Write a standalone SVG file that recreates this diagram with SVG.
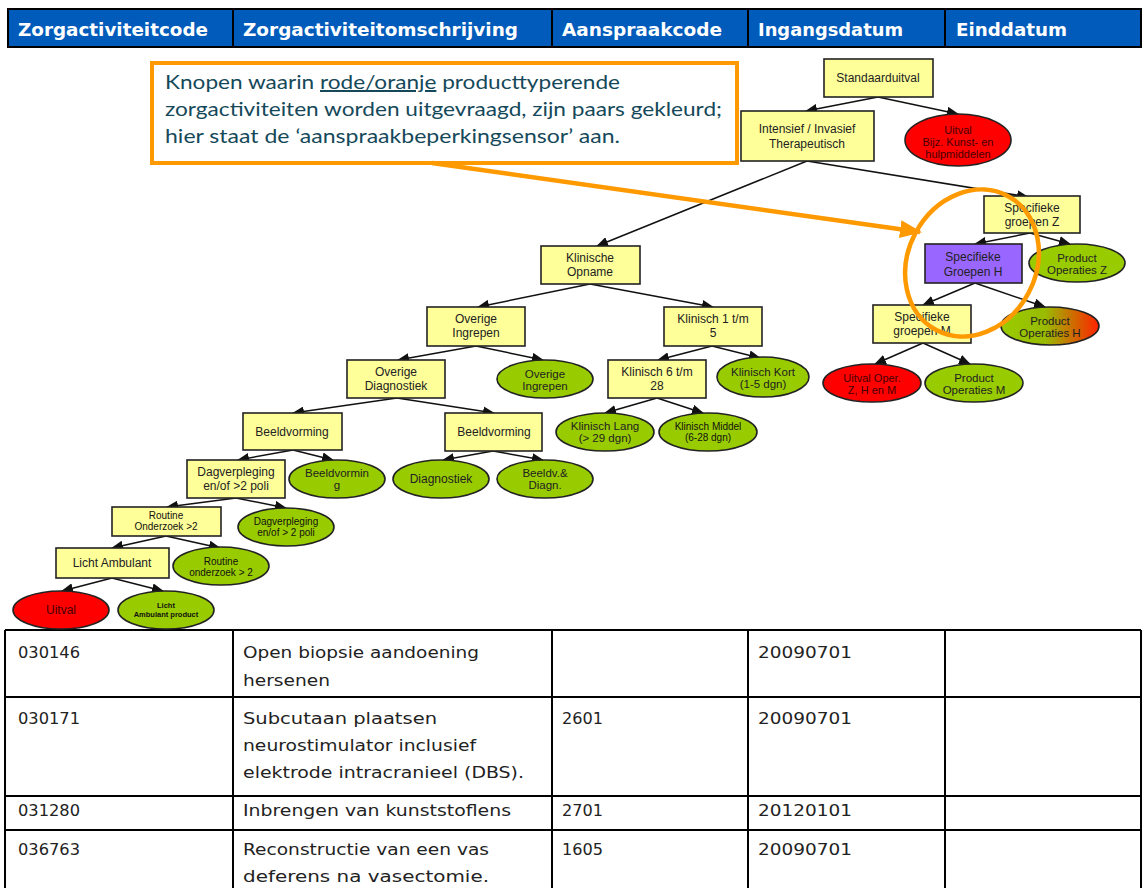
<svg xmlns="http://www.w3.org/2000/svg" width="1143" height="888" viewBox="0 0 1143 888">
<style>
.hdr{font-family:"DejaVu Sans",Verdana,sans-serif;font-weight:bold;font-size:17px;fill:#fff}
.td{font-family:"DejaVu Sans",Verdana,sans-serif;font-size:16.5px;fill:#222}
.grid{stroke:#000;stroke-width:2;fill:none}
.box{fill:#FFFF99;stroke:#222;stroke-width:1.6}
.pur{fill:#9966FF;stroke:#222;stroke-width:1.6}
.grn{fill:#99CC00;stroke:#222;stroke-width:1.6}
.red{fill:#FF0000;stroke:#222;stroke-width:1.6}
.t{font-family:"Liberation Sans",Arial,sans-serif;font-size:12px;fill:#222;text-anchor:middle}
.t11{font-family:"Liberation Sans",Arial,sans-serif;font-size:11.5px;fill:#222;text-anchor:middle}
.ts{font-family:"Liberation Sans",Arial,sans-serif;font-size:10px;fill:#111;text-anchor:middle}
.tx{font-family:"Liberation Sans",Arial,sans-serif;font-size:7.5px;font-weight:bold;fill:#111;text-anchor:middle}
.tr{font-family:"Liberation Sans",Arial,sans-serif;font-size:11px;fill:#400;text-anchor:middle}
.call{font-family:Lato,"Open Sans",sans-serif;font-size:20px;fill:#15495A}
.edge{stroke:#111;stroke-width:1.5;fill:none;marker-end:url(#ah)}
</style>
<defs>
<marker id="ah" markerWidth="12" markerHeight="10" refX="11" refY="5" orient="auto" markerUnits="userSpaceOnUse">
<path d="M0,0 L12,5 L0,10 Z" fill="#111"/>
</marker>
<marker id="oah" markerWidth="22" markerHeight="18" refX="20" refY="9" orient="auto" markerUnits="userSpaceOnUse">
<path d="M0,0 L22,9 L0,18 Z" fill="#FF9900"/>
</marker>
<linearGradient id="gh" x1="0" y1="0" x2="1" y2="0">
<stop offset="0" stop-color="#99CC00"/>
<stop offset="0.45" stop-color="#99BB00"/>
<stop offset="1" stop-color="#FF2200"/>
</linearGradient>
</defs>
<rect width="1143" height="888" fill="#fff"/>

<g id="header">
<rect x="8" y="9" width="1133" height="38" fill="#005BBB"/>
<path class="grid" d="M8,9 H1141 V47 H8 Z M233,9 V47 M552,9 V47 M748,9 V47 M945,9 V47"/>
<text class="hdr" x="18" y="36" textLength="190" lengthAdjust="spacingAndGlyphs">Zorgactiviteitcode</text>
<text class="hdr" x="243" y="36" textLength="275" lengthAdjust="spacingAndGlyphs">Zorgactiviteitomschrijving</text>
<text class="hdr" x="562" y="36" textLength="160" lengthAdjust="spacingAndGlyphs">Aanspraakcode</text>
<text class="hdr" x="758" y="36" textLength="145" lengthAdjust="spacingAndGlyphs">Ingangsdatum</text>
<text class="hdr" x="956" y="36" textLength="111" lengthAdjust="spacingAndGlyphs">Einddatum</text>
</g>

<g id="table">
<path class="grid" d="M5,630 H1141 M5,697 H1141 M5,796 H1141 M5,830 H1141 M5,630 V888 M233,630 V888 M552,630 V888 M748,630 V888 M945,630 V888 M1141,630 V888"/>
<text class="td" x="18" y="658" textLength="62" lengthAdjust="spacingAndGlyphs">030146</text>
<text class="td" x="243" y="658" textLength="236" lengthAdjust="spacingAndGlyphs">Open biopsie aandoening</text>
<text class="td" x="243" y="686" textLength="87" lengthAdjust="spacingAndGlyphs">hersenen</text>
<text class="td" x="758" y="658" textLength="94" lengthAdjust="spacingAndGlyphs">20090701</text>
<text class="td" x="18" y="724" textLength="62" lengthAdjust="spacingAndGlyphs">030171</text>
<text class="td" x="243" y="724" textLength="194" lengthAdjust="spacingAndGlyphs">Subcutaan plaatsen</text>
<text class="td" x="243" y="751" textLength="233" lengthAdjust="spacingAndGlyphs">neurostimulator inclusief</text>
<text class="td" x="243" y="778" textLength="281" lengthAdjust="spacingAndGlyphs">elektrode intracranieel (DBS).</text>
<text class="td" x="562" y="724" textLength="41" lengthAdjust="spacingAndGlyphs">2601</text>
<text class="td" x="758" y="724" textLength="94" lengthAdjust="spacingAndGlyphs">20090701</text>
<text class="td" x="18" y="816" textLength="62" lengthAdjust="spacingAndGlyphs">031280</text>
<text class="td" x="243" y="816" textLength="268" lengthAdjust="spacingAndGlyphs">Inbrengen van kunststoflens</text>
<text class="td" x="562" y="816" textLength="41" lengthAdjust="spacingAndGlyphs">2701</text>
<text class="td" x="758" y="816" textLength="94" lengthAdjust="spacingAndGlyphs">20120101</text>
<text class="td" x="18" y="855" textLength="62" lengthAdjust="spacingAndGlyphs">036763</text>
<text class="td" x="243" y="855" textLength="246" lengthAdjust="spacingAndGlyphs">Reconstructie van een vas</text>
<text class="td" x="243" y="882" textLength="246" lengthAdjust="spacingAndGlyphs">deferens na vasectomie.</text>
<text class="td" x="562" y="855" textLength="41" lengthAdjust="spacingAndGlyphs">1605</text>
<text class="td" x="758" y="855" textLength="94" lengthAdjust="spacingAndGlyphs">20090701</text>
</g>

<g id="connectors">
<path class="edge" d="M878,97 L806,111"/>
<path class="edge" d="M878,97 L958,114"/>
<path class="edge" d="M807,161 L597,246"/>
<path class="edge" d="M807,161 L1028,197"/>
<path class="edge" d="M1030,233 L975,244"/>
<path class="edge" d="M1030,233 L1070,244"/>
<path class="edge" d="M975,283 L923,305"/>
<path class="edge" d="M975,283 L1045,307"/>
<path class="edge" d="M923,343 L875,364"/>
<path class="edge" d="M923,343 L970,364"/>
<path class="edge" d="M590,284 L478,307"/>
<path class="edge" d="M590,284 L713,307"/>
<path class="edge" d="M712,346 L658,360"/>
<path class="edge" d="M712,346 L760,358"/>
<path class="edge" d="M657,398 L605,413"/>
<path class="edge" d="M657,398 L703,413"/>
<path class="edge" d="M476,346 L398,360"/>
<path class="edge" d="M476,346 L543,360"/>
<path class="edge" d="M397,398 L293,413"/>
<path class="edge" d="M397,398 L494,413"/>
<path class="edge" d="M493,451 L443,460"/>
<path class="edge" d="M493,451 L543,460"/>
<path class="edge" d="M293,450 L238,460"/>
<path class="edge" d="M293,450 L333,460"/>
<path class="edge" d="M236,498 L167,507"/>
<path class="edge" d="M236,498 L286,508"/>
<path class="edge" d="M166,536 L112,548"/>
<path class="edge" d="M166,536 L220,548"/>
<path class="edge" d="M112,578 L62,591"/>
<path class="edge" d="M112,578 L163,591"/>
</g>

<g id="n-standaard"><rect class="box" x="824" y="59" width="109" height="38"/><text class="t" x="878" y="82">Standaarduitval</text></g>
<g id="n-uitval-bijz"><ellipse class="red" cx="958" cy="140" rx="53" ry="26"/><text class="tr" x="958" y="134">Uitval</text><text class="tr" x="958" y="146">Bijz. Kunst- en</text><text class="tr" x="958" y="158">hulpmiddelen</text></g>
<g id="n-intensief"><rect class="box" x="741" y="111" width="133" height="50"/><text class="t" x="807" y="133">Intensief / Invasief</text><text class="t" x="807" y="148">Therapeutisch</text></g>
<g id="n-specz"><rect class="box" x="984" y="196" width="96" height="37"/><text class="t" x="1032" y="212">Specifieke</text><text class="t" x="1032" y="226">groepen Z</text></g>
<g id="n-spech"><rect class="pur" x="925" y="244" width="97" height="39"/><text class="t" x="973" y="261">Specifieke</text><text class="t" x="973" y="276">Groepen H</text></g>
<g id="n-prodz"><ellipse class="grn" cx="1077" cy="263" rx="48" ry="19"/><text class="t11" x="1077" y="262">Product</text><text class="t11" x="1077" y="274">Operaties Z</text></g>
<g id="n-specm"><rect class="box" x="873" y="305" width="98" height="38"/><text class="t" x="922" y="321">Specifieke</text><text class="t" x="922" y="335">groepen M</text></g>
<g id="n-prodh"><ellipse cx="1050" cy="326" rx="49" ry="19" fill="url(#gh)" stroke="#222" stroke-width="1.6"/><text class="t11" x="1050" y="325">Product</text><text class="t11" x="1050" y="337">Operaties H</text></g>
<g id="n-uitvaloper"><ellipse class="red" cx="872" cy="383" rx="49" ry="19"/><text class="tr" x="872" y="382">Uitval Oper.</text><text class="tr" x="872" y="394">Z, H en M</text></g>
<g id="n-prodm"><ellipse class="grn" cx="974" cy="383" rx="49" ry="19"/><text class="t11" x="974" y="382">Product</text><text class="t11" x="974" y="394">Operaties M</text></g>

<g id="n-klinopname"><rect class="box" x="541" y="246" width="99" height="38"/><text class="t" x="590" y="262">Klinische</text><text class="t" x="590" y="276">Opname</text></g>
<g id="n-klin15"><rect class="box" x="664" y="307" width="98" height="39"/><text class="t" x="713" y="323">Klinisch 1 t/m</text><text class="t" x="713" y="337">5</text></g>
<g id="n-klin628"><rect class="box" x="608" y="360" width="98" height="38"/><text class="t" x="657" y="376">Klinisch 6 t/m</text><text class="t" x="657" y="390">28</text></g>
<g id="n-klinkort"><ellipse class="grn" cx="763" cy="377" rx="46" ry="20"/><text class="t11" x="763" y="376">Klinisch Kort</text><text class="t11" x="763" y="388">(1-5 dgn)</text></g>
<g id="n-klinlang"><ellipse class="grn" cx="605" cy="432" rx="49" ry="19"/><text class="t11" x="605" y="430">Klinisch Lang</text><text class="t11" x="605" y="442">(&gt; 29 dgn)</text></g>
<g id="n-klinmiddel"><ellipse class="grn" cx="708" cy="432" rx="49" ry="19"/><text class="ts" x="708" y="430">Klinisch Middel</text><text class="ts" x="708" y="441">(6-28 dgn)</text></g>

<g id="n-overingr"><rect class="box" x="427" y="307" width="98" height="39"/><text class="t" x="476" y="323">Overige</text><text class="t" x="476" y="337">Ingrepen</text></g>
<g id="n-overingr-e"><ellipse class="grn" cx="545" cy="379" rx="48" ry="19"/><text class="t11" x="545" y="378">Overige</text><text class="t11" x="545" y="390">Ingrepen</text></g>
<g id="n-overdiag"><rect class="box" x="347" y="360" width="98" height="38"/><text class="t" x="396" y="376">Overige</text><text class="t" x="396" y="390">Diagnostiek</text></g>
<g id="n-beeld2"><rect class="box" x="445" y="413" width="97" height="38"/><text class="t" x="494" y="436">Beeldvorming</text></g>
<g id="n-diag"><ellipse class="grn" cx="441" cy="479" rx="48" ry="19"/><text class="t" x="441" y="483">Diagnostiek</text></g>
<g id="n-beelddiag"><ellipse class="grn" cx="545" cy="479" rx="48" ry="19"/><text class="t11" x="545" y="477">Beeldv.&amp;</text><text class="t11" x="545" y="489">Diagn.</text></g>

<g id="n-beeld1"><rect class="box" x="243" y="413" width="99" height="37"/><text class="t" x="292" y="436">Beeldvorming</text></g>
<g id="n-dagverpl"><rect class="box" x="187" y="460" width="98" height="38"/><text class="t" x="236" y="476">Dagverpleging</text><text class="t" x="236" y="490">en/of &gt;2 poli</text></g>
<g id="n-beeld-e"><ellipse class="grn" cx="337" cy="479" rx="48" ry="19"/><text class="t11" x="337" y="477">Beeldvormin</text><text class="t11" x="337" y="489">g</text></g>
<g id="n-routine"><rect class="box" x="112" y="507" width="109" height="29"/><text class="ts" x="166" y="519">Routine</text><text class="ts" x="166" y="530">Onderzoek &gt;2</text></g>
<g id="n-dagverpl-e"><ellipse class="grn" cx="286" cy="527" rx="48" ry="19"/><text class="ts" x="286" y="525">Dagverpleging</text><text class="ts" x="286" y="536">en/of &gt; 2 poli</text></g>
<g id="n-licht"><rect class="box" x="56" y="548" width="113" height="30"/><text class="t" x="112" y="567">Licht Ambulant</text></g>
<g id="n-routine-e"><ellipse class="grn" cx="221" cy="566" rx="48" ry="19"/><text class="ts" x="221" y="565">Routine</text><text class="ts" x="221" y="576">onderzoek &gt; 2</text></g>
<g id="n-uitval"><ellipse class="red" cx="61" cy="610" rx="48" ry="19"/><text class="tr" x="61" y="614" style="font-size:12px">Uitval</text></g>
<g id="n-lichtprod"><ellipse class="grn" cx="166" cy="610" rx="48" ry="19"/><text class="tx" x="166" y="608">Licht</text><text class="tx" x="166" y="617">Ambulant product</text></g>

<g id="callout">
<rect x="152" y="63" width="585" height="100" fill="#fff" stroke="#FF9900" stroke-width="4"/>
<text class="call" x="165" y="89"><tspan textLength="455" lengthAdjust="spacingAndGlyphs">Knopen waarin <tspan text-decoration="underline">rode/oranje</tspan>  producttyperende</tspan></text>
<text class="call" x="165" y="116" textLength="557" lengthAdjust="spacingAndGlyphs">zorgactiviteiten  worden uitgevraagd, zijn paars gekleurd;</text>
<text class="call" x="165" y="143" textLength="455" lengthAdjust="spacingAndGlyphs">hier staat de ‘aanspraakbeperkingsensor’  aan.</text>
<path d="M432,163 L920,232" stroke="#FF9900" stroke-width="4.5" fill="none" marker-end="url(#oah)"/>
<ellipse cx="972" cy="263" rx="64" ry="76" transform="rotate(28 972 263)" fill="none" stroke="#FF9900" stroke-width="4.5"/>
</g>
</svg>
